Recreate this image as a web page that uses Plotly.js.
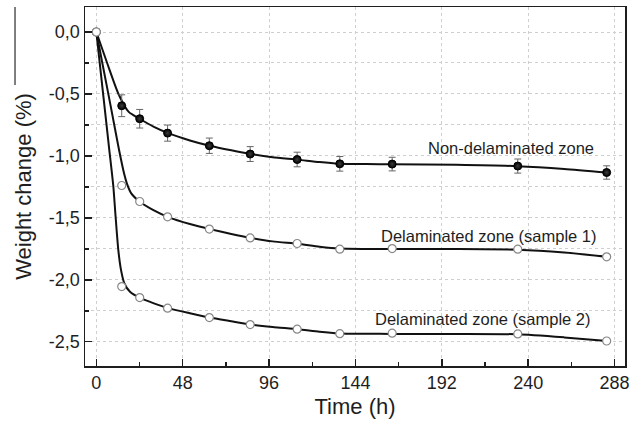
<!DOCTYPE html>
<html>
<head>
<meta charset="utf-8">
<script src="https://cdn.plot.ly/plotly-3.0.1.min.js"></script>
<style>html,body{margin:0;padding:0;background:#fff;}#chart{width:630px;height:425px;}</style>
</head>
<body>
<div id="chart"></div>
<script>
// Measured points (time in hours)
const timeH = [0, 14.1, 24.1, 39.6, 62.8, 85.5, 111.6, 135.3, 164.4, 234.2, 283.6];
const nonDelam = [0, -0.595, -0.700, -0.816, -0.918, -0.985, -1.029, -1.064, -1.066, -1.082, -1.134];
const nonDelamErr = [0, 0.088, 0.075, 0.065, 0.062, 0.060, 0.059, 0.059, 0.055, 0.057, 0.054];
const sample1 = [0, -1.239, -1.368, -1.492, -1.591, -1.662, -1.707, -1.753, -1.748, -1.753, -1.815];
const sample2 = [0, -2.055, -2.144, -2.229, -2.305, -2.362, -2.399, -2.435, -2.431, -2.437, -2.494];

// Fitted curves
const fitNonT = [0, 6, 12.3, 18, 24, 32, 40, 52, 63, 75, 86, 98, 112, 124, 135, 150, 164, 200, 234, 260, 284];
const fitNonV = [0, -0.25, -0.50, -0.645, -0.70, -0.765, -0.816, -0.875, -0.918, -0.955, -0.985, -1.01, -1.03, -1.05, -1.063, -1.066, -1.067, -1.072, -1.083, -1.105, -1.134];
const fitS1T = [0, 4, 8, 12.6, 15.6, 16.9, 19.3, 24, 32, 40, 52, 63, 75, 86, 98, 112, 124, 135, 150, 164, 200, 234, 260, 284];
const fitS1V = [0, -0.30, -0.60, -0.95, -1.153, -1.22, -1.30, -1.368, -1.44, -1.494, -1.55, -1.591, -1.63, -1.662, -1.69, -1.71, -1.733, -1.748, -1.751, -1.752, -1.752, -1.757, -1.78, -1.815];
const fitS2T = [0, 4, 7.2, 9.45, 10.7, 12.2, 13.7, 15.6, 18.7, 24, 32, 40, 52, 63, 75, 86, 98, 112, 124, 135, 150, 164, 200, 234, 260, 284];
const fitS2V = [0, -0.53, -0.951, -1.247, -1.489, -1.758, -1.92, -2.03, -2.097, -2.144, -2.19, -2.229, -2.27, -2.305, -2.335, -2.362, -2.382, -2.399, -2.42, -2.433, -2.436, -2.437, -2.437, -2.44, -2.465, -2.494];

const yTickVals = [0, -0.5, -1.0, -1.5, -2.0, -2.5];
const yTickText = ['0,0', '-0,5', '-1,0', '-1,5', '-2,0', '-2,5'];
const labels = ['Non-delaminated zone', 'Delaminated zone (sample 1)', 'Delaminated zone (sample 2)'];

const font = 'Arial, "Liberation Sans", sans-serif';
const ink = '#1e1e1e';

function fitTrace(x, y) {
  return {x: x, y: y, type: 'scatter', mode: 'lines',
    line: {color: '#111', width: 2, shape: 'spline', smoothing: 0.6},
    hoverinfo: 'skip', showlegend: false};
}

const traces = [
  fitTrace(fitNonT, fitNonV),
  fitTrace(fitS1T, fitS1V),
  fitTrace(fitS2T, fitS2V),
  {x: timeH, y: nonDelam, type: 'scatter', mode: 'markers', showlegend: false,
   marker: {size: 8, color: '#000', line: {color: '#000', width: 1},
            gradient: {type: 'radial', color: '#3c3c3c'}},
   error_y: {type: 'data', array: nonDelamErr, visible: true, color: '#666', thickness: 1, width: 3.5}},
  {x: timeH, y: sample1, type: 'scatter', mode: 'markers', showlegend: false,
   marker: {size: 8, color: '#fff', line: {color: '#888', width: 1.2}}},
  {x: timeH, y: sample2, type: 'scatter', mode: 'markers', showlegend: false,
   marker: {size: 8, color: '#fff', line: {color: '#888', width: 1.2}}}
];

const axisCommon = {
  ticks: 'inside', ticklen: 7, tickwidth: 1.5, tickcolor: ink,
  showline: true, mirror: true, linecolor: ink, linewidth: 1.5,
  showgrid: true, gridcolor: '#cfcfcf', griddash: 'dot', gridwidth: 1,
  zeroline: false, tickfont: {family: font, size: 18, color: ink}
};

const layout = {
  width: 630, height: 425,
  margin: {l: 85, r: 5, t: 7, b: 59},
  paper_bgcolor: '#fff', plot_bgcolor: '#fff',
  showlegend: false,
  xaxis: Object.assign({}, axisCommon, {
    range: [-6.3, 293.8], tickmode: 'linear', tick0: 0, dtick: 48,
    title: {text: 'Time (h)', font: {family: font, size: 22, color: ink}, standoff: 6},
    minor: {tickmode: 'linear', tick0: 0, dtick: 24, ticks: 'inside', ticklen: 4, tickwidth: 1.5, tickcolor: ink, showgrid: false}
  }),
  yaxis: Object.assign({}, axisCommon, {
    range: [-2.696, 0.202], tickmode: 'array', tickvals: yTickVals, ticktext: yTickText,
    title: {text: 'Weight change (%)', font: {family: font, size: 22, color: ink}, standoff: 11},
    minor: {tickmode: 'linear', tick0: 0, dtick: 0.25, ticks: 'inside', ticklen: 4, tickwidth: 1.5, tickcolor: ink,
            showgrid: true, gridcolor: '#cfcfcf', griddash: 'dot', gridwidth: 1}
  }),
  annotations: [
    {x: 230.2, y: -0.935, text: labels[0]},
    {x: 218.2, y: -1.645, text: labels[1]},
    {x: 214.9, y: -2.316, text: labels[2]}
  ].map(a => Object.assign(a, {xref: 'x', yref: 'y', showarrow: false, xanchor: 'center', yanchor: 'middle',
        font: {family: font, size: 16.5, color: ink}})),
  shapes: [
    {type: 'line', xref: 'paper', yref: 'paper', x0: -0.1296, x1: -0.1296, y0: 0.783, y1: 1.0,
     line: {color: '#555', width: 1.5}}
  ]
};

Plotly.newPlot('chart', traces, layout, {displayModeBar: false, staticPlot: true});
</script>
</body>
</html>
